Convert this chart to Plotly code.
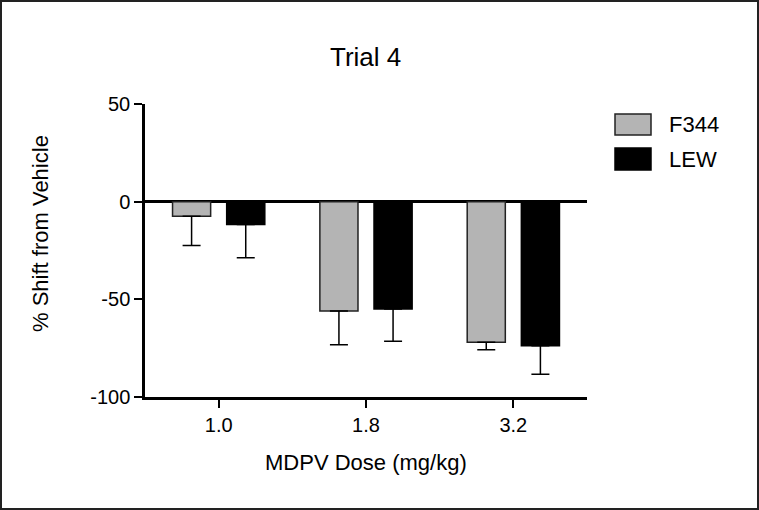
import plotly.graph_objects as go

# --- data ---
doses = ["1.0", "1.8", "3.2"]
f344_mean = [-7.5, -56.0, -72.0]
f344_sem = [15.0, 17.3, 3.8]
lew_mean = [-11.7, -55.0, -73.8]
lew_sem = [17.0, 16.4, 14.5]
y_ticks = [-100, -50, 0, 50]
y_tick_labels = ["-100", "-50", "0", "50"]

W, H = 759, 510
L, R, T, B = 145, 172, 104, 113
PW, PH = W - L - R, H - T - B

FONT = "Arial, Liberation Sans, sans-serif"


def px(x):
    return (x - L) / PW


def py(y):
    return 1 - (y - T) / PH


fig = go.Figure()
fig.add_trace(go.Bar(
    x=doses, y=f344_mean, name="F344",
    marker=dict(color="#b4b4b4", line=dict(color="#222", width=1.5)),
    error_y=dict(type="data", symmetric=False, array=[0] * 3, arrayminus=f344_sem,
                 color="black", thickness=1.5, width=9),
    showlegend=False,
))
fig.add_trace(go.Bar(
    x=doses, y=lew_mean, name="LEW",
    marker=dict(color="black", line=dict(color="black", width=1.5)),
    error_y=dict(type="data", symmetric=False, array=[0] * 3, arrayminus=lew_sem,
                 color="black", thickness=1.5, width=9),
    showlegend=False,
))

# --- hand-drawn legend (bigger swatches than plotly's own) ---
shapes = [
    dict(type="rect", xref="paper", yref="paper",
         x0=px(615), x1=px(651), y0=py(135), y1=py(114),
         fillcolor="#b4b4b4", line=dict(color="#222", width=1.5)),
    dict(type="rect", xref="paper", yref="paper",
         x0=px(615), x1=px(651), y0=py(170), y1=py(148),
         fillcolor="black", line=dict(color="black", width=1.5)),
    # outer frame
    dict(type="rect", xref="paper", yref="paper",
         x0=px(1), x1=px(W - 1), y0=py(H - 1), y1=py(1),
         line=dict(color="#222", width=2)),
]
annotations = [
    dict(text="F344", xref="paper", yref="paper", x=px(667), y=py(125),
         xanchor="left", yanchor="middle", showarrow=False,
         font=dict(size=22, color="black", family=FONT)),
    dict(text="LEW", xref="paper", yref="paper", x=px(667), y=py(159.5),
         xanchor="left", yanchor="middle", showarrow=False,
         font=dict(size=22, color="black", family=FONT)),
    dict(text="Trial 4", xref="paper", yref="paper", x=px(365), y=py(57),
         xanchor="center", yanchor="middle", showarrow=False,
         font=dict(size=26, color="black", family=FONT)),
    dict(text="MDPV Dose (mg/kg)", xref="paper", yref="paper", x=px(366), y=py(462),
         xanchor="center", yanchor="middle", showarrow=False,
         font=dict(size=22, color="black", family=FONT)),
    dict(text="% Shift from Vehicle", xref="paper", yref="paper", x=px(41), y=py(234),
         xanchor="center", yanchor="middle", textangle=-90, showarrow=False,
         font=dict(size=22, color="black", family=FONT)),
]

fig.update_layout(
    width=W, height=H,
    margin=dict(l=L, r=R, t=T, b=B),
    paper_bgcolor="white", plot_bgcolor="white",
    font=dict(family=FONT, color="black", size=20),
    barmode="group", bargap=0.265, bargroupgap=0.296,
    shapes=shapes, annotations=annotations,
    xaxis=dict(type="category", showline=True, linecolor="black", linewidth=2.5,
               ticks="outside", ticklen=8, tickwidth=2, tickcolor="black",
               showgrid=False, zeroline=False),
    yaxis=dict(range=[-100, 50], tickvals=y_ticks, ticktext=y_tick_labels,
               showline=True, linecolor="black", linewidth=2.5,
               ticks="outside", ticklen=8, tickwidth=2, tickcolor="black",
               showgrid=False, zeroline=True, zerolinecolor="black", zerolinewidth=2.5),
)

fig.write_html("out.html", config={"displayModeBar": False},
               post_script="document.body.style.margin='0';")
